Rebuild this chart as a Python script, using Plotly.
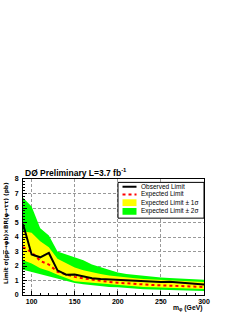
import plotly.graph_objects as go

# ---- data ----
masses = [90, 100, 110, 120, 130, 140, 150, 160, 170, 180, 190, 200,
          210, 220, 230, 240, 250, 260, 270, 280, 290, 300]
observed = [4.9, 2.8, 2.6, 2.9, 1.7, 1.4, 1.42, 1.3, 1.15, 1.1, 1.07, 1.03,
            1.0, 0.98, 0.95, 0.9, 0.9, 0.92, 0.88, 0.82, 0.78, 0.72]
expected = [3.3, 2.95, 2.35, 2.1, 1.6, 1.4, 1.25, 1.15, 1.05, 0.98, 0.9, 0.85,
            0.8, 0.75, 0.72, 0.69, 0.67, 0.64, 0.62, 0.6, 0.58, 0.55]
sig1_up = [4.4, 4.3, 3.7, 3.3, 2.5, 2.2, 1.9, 1.7, 1.55, 1.45, 1.35, 1.27,
           1.2, 1.15, 1.1, 1.07, 1.05, 1.02, 1.0, 0.97, 0.94, 0.9]
sig1_lo = [2.4, 2.17, 1.85, 1.66, 1.4, 1.2, 0.95, 0.9, 0.85, 0.78, 0.72, 0.68,
           0.62, 0.58, 0.55, 0.53, 0.51, 0.49, 0.47, 0.45, 0.44, 0.42]
sig2_up = [6.7, 6.1, 4.6, 4.1, 3.0, 2.8, 2.55, 2.4, 2.1, 1.9, 1.7, 1.55,
           1.45, 1.38, 1.3, 1.25, 1.2, 1.17, 1.14, 1.1, 1.08, 1.05]
sig2_lo = [1.75, 1.6, 1.4, 1.28, 1.15, 1.0, 0.82, 0.75, 0.68, 0.62, 0.56, 0.53,
           0.47, 0.42, 0.4, 0.38, 0.36, 0.34, 0.32, 0.31, 0.3, 0.28]

x_ticks = [100, 150, 200, 250, 300]
y_ticks = [0, 1, 2, 3, 4, 5, 6, 7, 8]
legend_labels = ["Observed Limit", "Expected Limit",
                 "Expected Limit \u00b1 1\u03c3", "Expected Limit \u00b1 2\u03c3"]

GREEN = "#00ff00"
YELLOW = "#ffff00"
FONT = "Liberation Sans, DejaVu Sans, sans-serif"

fig = go.Figure()
fig.add_trace(go.Scatter(x=masses, y=sig2_lo, mode="lines", line=dict(width=0),
                         showlegend=False, hoverinfo="skip"))
fig.add_trace(go.Scatter(x=masses, y=sig2_up, mode="lines", line=dict(width=0),
                         fill="tonexty", fillcolor=GREEN, showlegend=False))
fig.add_trace(go.Scatter(x=masses, y=sig1_lo, mode="lines", line=dict(width=0),
                         showlegend=False, hoverinfo="skip"))
fig.add_trace(go.Scatter(x=masses, y=sig1_up, mode="lines", line=dict(width=0),
                         fill="tonexty", fillcolor=YELLOW, showlegend=False))
fig.add_trace(go.Scatter(x=masses, y=expected, mode="lines",
                         line=dict(color="red", width=2, dash="dot"), showlegend=False))
fig.add_trace(go.Scatter(x=masses, y=observed, mode="lines",
                         line=dict(color="black", width=2), showlegend=False))

# ---- manual ROOT-style legend (paper coords) ----
W0, W1 = 23, 204
H0, H1 = 179, 299
def px(xp):
    return (xp - W0) / (W1 - W0)
def py(yp):
    return (H1 - yp) / (H1 - H0)

shapes = [dict(type="rect", xref="paper", yref="paper",
               x0=px(118), x1=px(204), y0=py(219.5), y1=py(182.5),
               line=dict(color="black", width=1), fillcolor="white", layer="above")]
rows = [187, 195, 203.5, 212.5]
sx0, sx1 = 122.5, 136.5
shapes.append(dict(type="line", xref="paper", yref="paper", x0=px(sx0), x1=px(sx1),
                   y0=py(rows[0]), y1=py(rows[0]), line=dict(color="black", width=2), layer="above"))
shapes.append(dict(type="line", xref="paper", yref="paper", x0=px(sx0), x1=px(sx1),
                   y0=py(rows[1]), y1=py(rows[1]), line=dict(color="red", width=2, dash="dot"), layer="above"))
shapes.append(dict(type="rect", xref="paper", yref="paper", x0=px(sx0), x1=px(sx1),
                   y0=py(rows[2] + 3.5), y1=py(rows[2] - 3.5), line=dict(width=0),
                   fillcolor=YELLOW, layer="above"))
shapes.append(dict(type="rect", xref="paper", yref="paper", x0=px(sx0), x1=px(sx1),
                   y0=py(rows[3] + 3.5), y1=py(rows[3] - 3.5), line=dict(width=0),
                   fillcolor=GREEN, layer="above"))

annotations = []
for r, lab in zip(rows, legend_labels):
    annotations.append(dict(xref="paper", yref="paper", x=px(139), y=py(r),
                            xanchor="left", yanchor="middle", text=lab, showarrow=False,
                            font=dict(family=FONT, size=6.5, color="black")))

annotations.append(dict(xref="paper", yref="paper", x=px(23), y=py(172),
                        xanchor="left", yanchor="middle",
                        text="<b>D\u00d8 Preliminary L=3.7 fb<sup>-1</sup></b>",
                        showarrow=False, font=dict(family=FONT, size=8.5, color="black")))
annotations.append(dict(xref="paper", yref="paper", x=px(203), y=py(318),
                        xanchor="right", yanchor="bottom", borderpad=0,
                        text="<b>m<sub>\u03c6</sub> (GeV)</b>",
                        showarrow=False, font=dict(family=FONT, size=6.8, color="black")))
annotations.append(dict(xref="paper", yref="paper", x=px(7), y=py(180),
                        xanchor="center", yanchor="top", textangle=-90,
                        text="<b>Limit \u03c3(p<span style='text-decoration:overline'>p</span>\u2192\u03c6b)\u00d7BR(\u03c6\u2192\u03c4\u03c4) (pb)</b>",
                        showarrow=False, font=dict(family="DejaVu Sans", size=5.8, color="black")))

fig.update_layout(
    width=245, height=317,
    margin=dict(l=W0, r=245 - W1, t=H0, b=317 - H1, pad=0),
    paper_bgcolor="white", plot_bgcolor="white",
    shapes=shapes, annotations=annotations,
    font=dict(family=FONT, color="black"),
)
fig.update_xaxes(
    range=[90, 300], tickvals=x_ticks, ticktext=[f"<b>{v}</b>" for v in x_ticks],
    ticks="inside", ticklen=4, tickcolor="black", tickfont=dict(size=7, family=FONT),
    showline=True, linecolor="black", linewidth=1, mirror=True,
    showgrid=True, gridcolor="#999999", griddash="3px,2px", gridwidth=0.7,
    minor=dict(dtick=10, tick0=90, ticks="inside", ticklen=2, tickcolor="black", showgrid=False),
    zeroline=False, ticklabelstandoff=0,
)
fig.update_yaxes(
    range=[0, 8], tickvals=y_ticks, ticktext=[f"<b>{v}</b>" for v in y_ticks],
    ticks="inside", ticklen=4, tickcolor="black", tickfont=dict(size=7, family=FONT),
    showline=True, linecolor="black", linewidth=1, mirror=True,
    showgrid=True, gridcolor="#999999", griddash="3px,2px", gridwidth=0.7,
    minor=dict(dtick=0.2, ticks="inside", ticklen=2, tickcolor="black", showgrid=False),
    zeroline=False, ticklabelstandoff=2,
)

fig.write_html("out.html", config={"displayModeBar": False},
               post_script="document.body.style.margin='0px';document.body.style.overflow='hidden';")
